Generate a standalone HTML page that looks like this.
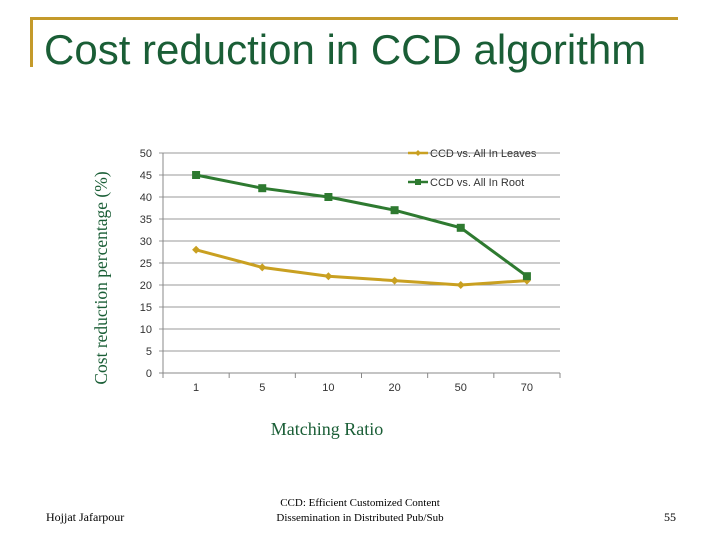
<!DOCTYPE html>
<html><head><meta charset="utf-8"><style>
body{margin:0;background:#fff;width:720px;height:540px;overflow:hidden;position:relative;font-family:"Liberation Sans",sans-serif}
.t{position:absolute;white-space:nowrap}
</style></head><body>
<div style="position:absolute;left:30px;top:17px;width:648px;height:3px;background:#c49a2a"></div>
<div style="position:absolute;left:30px;top:17px;width:3px;height:50px;background:#c49a2a"></div>
<div class="t" style="left:44px;top:26px;font-size:42px;color:#1a5e36">Cost reduction in CCD algorithm</div>
<svg width="720" height="540" style="position:absolute;left:0;top:0">
<g id="grid"></g><g id="lines"></g>
<text x="0" y="0" transform="translate(107,278) rotate(-90)" text-anchor="middle" font-family="Liberation Serif,serif" font-size="17.5" fill="#1a5e36">Cost reduction percentage (%)</text>
<text x="327" y="435" text-anchor="middle" font-family="Liberation Serif,serif" font-size="18" fill="#1a5e36">Matching Ratio</text>
<g><line x1="408" y1="153" x2="428" y2="153" stroke="#c9a021" stroke-width="2.5"/><path d="M418 150 L421 153 L418 156 L415 153Z" fill="#c9a021"/><text x="430" y="157" font-size="11" fill="#333">CCD vs. All In Leaves</text></g>
<g><line x1="408" y1="182" x2="428" y2="182" stroke="#2e7a30" stroke-width="2.5"/><rect x="415" y="179" width="6" height="6" fill="#2e7a30"/><text x="430" y="186" font-size="11" fill="#333">CCD vs. All In Root</text></g>
</svg>
<div class="t" style="left:46px;top:510px;font-family:'Liberation Serif',serif;font-size:12px">Hojjat Jafarpour</div>
<div class="t" style="left:230px;top:496px;width:260px;text-align:center;font-family:'Liberation Serif',serif;font-size:11px;line-height:15px">CCD: Efficient Customized Content<br>Dissemination in Distributed Pub/Sub</div>
<div class="t" style="left:664px;top:510px;font-family:'Liberation Serif',serif;font-size:12px">55</div>
<script>
const categories=["1","5","10","20","50","70"];
const leaves=[28,24,22,21,20,21];
const root=[45,42,40,37,33,22];
const yTicks=[0,5,10,15,20,25,30,35,40,45,50];
const NS="http://www.w3.org/2000/svg";
const x0=163,x1=560,yTop=153,yBot=373,yMax=50;
const bw=(x1-x0)/categories.length;
const X=i=>x0+bw*(i+0.5), Y=v=>yBot-(v/yMax)*(yBot-yTop);
function mk(t,a,p){const e=document.createElementNS(NS,t);for(const k in a)e.setAttribute(k,a[k]);p.appendChild(e);return e;}
const g=document.getElementById('grid'),L=document.getElementById('lines');
yTicks.forEach(v=>{
 const ln=mk('line',{x1:x0-4,x2:x1,y1:Y(v),y2:Y(v),stroke:v===0?'#888':'#999','stroke-width':1},g);
 
 
 const t=mk('text',{x:152,y:Y(v)+4,'text-anchor':'end','font-size':11,fill:'#333'},g);t.textContent=v;
 
 
});
mk('line',{x1:x0,x2:x0,y1:yTop,y2:yBot,stroke:'#888'},g);
for(let i=0;i<=categories.length;i++)mk('line',{x1:x0+bw*i,x2:x0+bw*i,y1:yBot,y2:yBot+5,stroke:'#888'},g);
categories.forEach((c,i)=>{const t=mk('text',{x:X(i),y:391,'text-anchor':'middle','font-size':11,fill:'#333'},g);t.textContent=c;
 
 });
function series(d,col,sq,name){
 const p=mk('polyline',{points:d.map((v,i)=>X(i)+','+Y(v)).join(' '),fill:'none',stroke:col,'stroke-width':3},L);
 
 
 d.forEach((v,i)=>{const m=sq?mk('rect',{x:X(i)-4,y:Y(v)-4,width:8,height:8,fill:col},L):mk('path',{d:`M${X(i)} ${Y(v)-4}L${X(i)+4} ${Y(v)}L${X(i)} ${Y(v)+4}L${X(i)-4} ${Y(v)}Z`,fill:col},L);
 
 });
}
series(leaves,'#c9a021',false,'leaves');
series(root,'#2e7a30',true,'root');
</script>
</body></html>
